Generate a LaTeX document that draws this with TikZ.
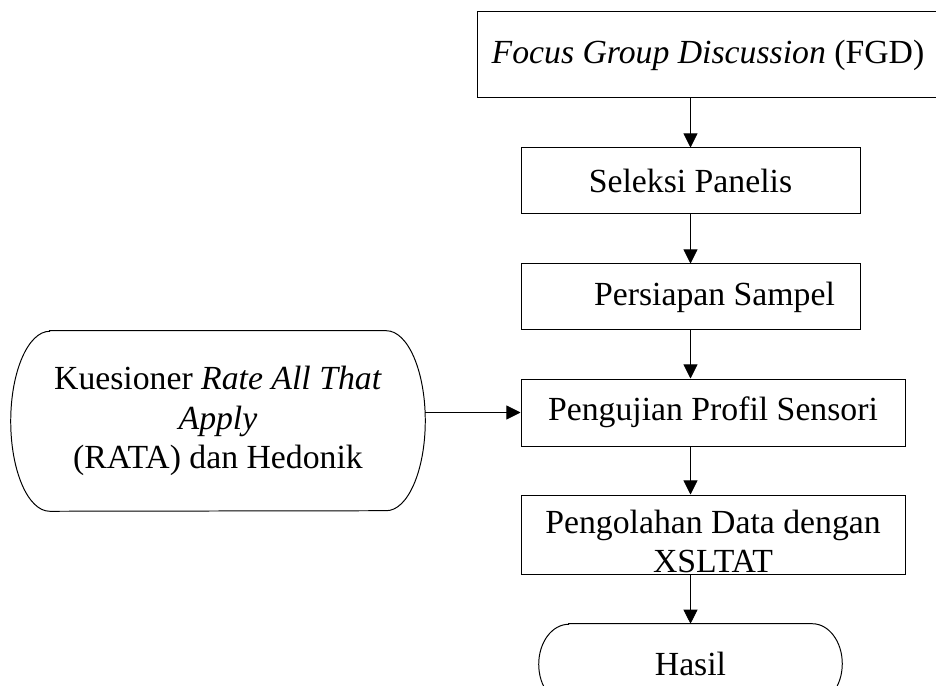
\documentclass[tikz,border=0pt]{standalone}
\usepackage{fontspec}
\setmainfont{Liberation Serif}
\usetikzlibrary{arrows.meta}
\tikzset{
	txt/.style={
			align=center, font=\fontsize{24}{28}\selectfont
		},
	box/.style={
			txt, draw, line width=0.7pt, minimum height=1.65cm
		},
	flow/.style={-{Triangle[width=10pt,length=10pt]}, line width=0.6pt},
	outline/.style={line width=0.7pt}
}

\begin{document}
\begin{tikzpicture}
		\clip (0,0) rectangle (23.4,17.15);

		\node[box, minimum width=11.55cm, minimum height=2.15cm] (fgd) at (17.7,15.775) {\textit{Focus Group Discussion} (FGD)};
		\node[box, minimum width=8.475cm] (sel) at (17.2625,12.625) {Seleksi Panelis};
		\node[box, minimum width=8.475cm] (pers) at (17.2625,9.725) {\hspace*{1.2cm}Persiapan Sampel};
		\node[box, minimum width=9.6cm, minimum height=1.675cm] (uji) at (17.825,6.8375) {Pengujian Profil Sensori};
		\node[box, minimum width=9.6cm, minimum height=1.975cm] (olah) at (17.825,3.7875) {};
		\node[txt] (olahtext) at ([yshift=-0.17cm]olah.center) {Pengolahan Data dengan\\XSLTAT};

		% terminator shapes
		\node[txt, minimum width=7.575cm, minimum height=2cm] (hasil) at (17.2625,0.55) {Hasil};
		\draw[outline] ([xshift=0.75cm]hasil.north west) -- ([xshift=-0.75cm]hasil.north east)
			arc[start angle=90, end angle=-90, x radius=0.75cm, y radius=1cm]
			-- ([xshift=0.75cm]hasil.south west)
			arc[start angle=270, end angle=90, x radius=0.75cm, y radius=1cm] -- cycle;

		\node[txt, minimum width=10.35cm, minimum height=4.5cm] (kues) at (5.45,6.625) {Kuesioner \textit{Rate All That}\\\textit{Apply}\\(RATA) dan Hedonik};
		\draw[outline] ([xshift=0.975cm]kues.north west) -- ([xshift=-0.975cm]kues.north east)
			arc[start angle=90, end angle=-90, x radius=0.975cm, y radius=2.25cm]
			-- ([xshift=0.975cm]kues.south west)
			arc[start angle=270, end angle=90, x radius=0.975cm, y radius=2.25cm] -- cycle;

		\draw[flow] (sel.north |- fgd.south) -- (sel.north);
		\draw[flow] (sel) -- (pers);
		\draw[flow] (pers) -- (pers.south |- uji.north);
		\draw[flow] (pers.south |- uji.south) -- (pers.south |- olah.north);
		\draw[flow] (pers.south |- olah.south) -- (hasil.north);
		\draw[flow] (kues.east |- uji.west) -- (uji.west);
	\end{tikzpicture}
\end{document}
